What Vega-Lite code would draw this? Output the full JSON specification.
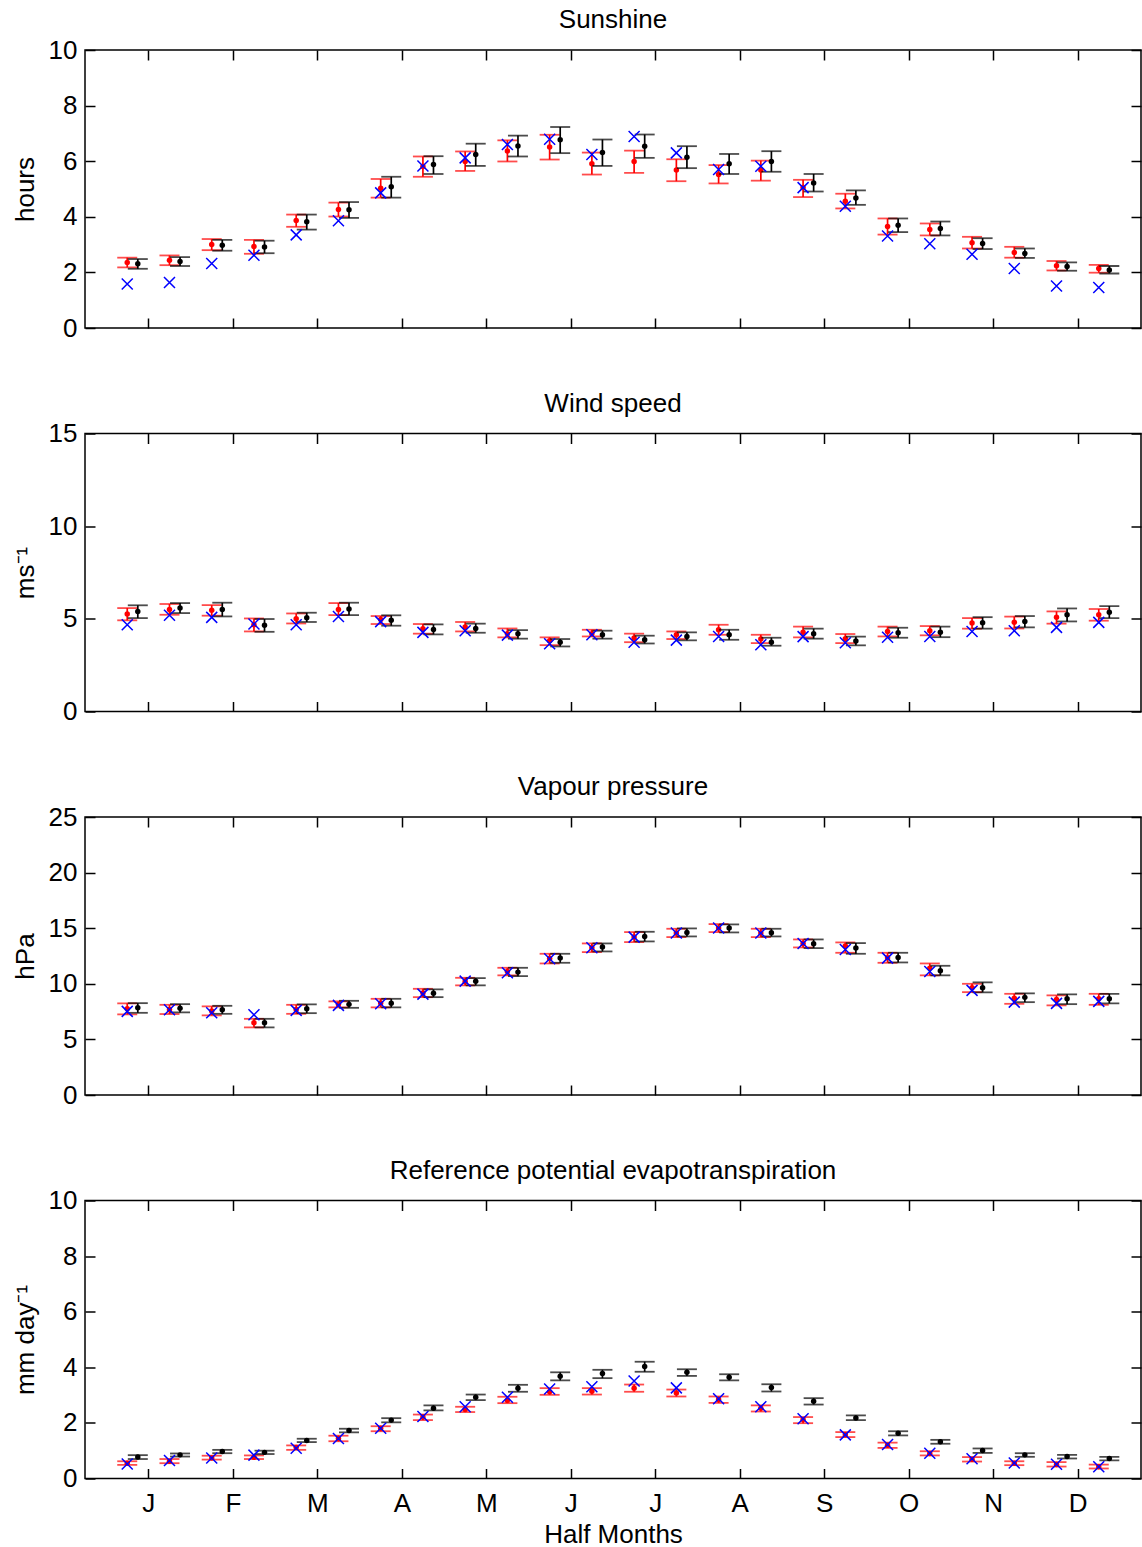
{
"$schema": "https://vega.github.io/schema/vega-lite/v6.json",
"padding": {"left": 11, "top": 6, "right": 0, "bottom": 0},
"background": "white",
"spacing": 105.5,
"bounds": "flush",
"config": {
  "font": "Liberation Sans",
  "view": {"stroke": "black", "strokeWidth": 1.5},
  "axis": {"domain": false, "grid": false, "tickColor": "black", "tickWidth": 1.5, "tickSize": -10,
           "labelFont": "Liberation Sans", "labelFontSize": 26, "labelColor": "black", "labelPadding": 18,
           "titleFont": "Liberation Sans", "titleFontSize": 26, "titleFontWeight": "normal", "titleColor": "black", "titlePadding": 10},
  "title": {"font": "Liberation Sans", "fontSize": 26, "fontWeight": "normal", "color": "black", "offset": 4}
},
"datasets": {
"sun": [
{"h":1,"r":2.36,"rl":2.18,"rh":2.53,"k":2.31,"kl":2.13,"kh":2.48,"b":1.58},
{"h":2,"r":2.44,"rl":2.26,"rh":2.61,"k":2.39,"kl":2.23,"kh":2.55,"b":1.64},
{"h":3,"r":3.00,"rl":2.80,"rh":3.20,"k":2.98,"kl":2.78,"kh":3.17,"b":2.32},
{"h":4,"r":2.93,"rl":2.67,"rh":3.17,"k":2.91,"kl":2.69,"kh":3.14,"b":2.62},
{"h":5,"r":3.87,"rl":3.64,"rh":4.08,"k":3.82,"kl":3.54,"kh":4.08,"b":3.35},
{"h":6,"r":4.26,"rl":4.01,"rh":4.51,"k":4.25,"kl":3.96,"kh":4.53,"b":3.86},
{"h":7,"r":5.03,"rl":4.69,"rh":5.36,"k":5.08,"kl":4.69,"kh":5.44,"b":4.86},
{"h":8,"r":5.81,"rl":5.44,"rh":6.17,"k":5.88,"kl":5.54,"kh":6.18,"b":5.83},
{"h":9,"r":5.99,"rl":5.65,"rh":6.35,"k":6.24,"kl":5.83,"kh":6.63,"b":6.12},
{"h":10,"r":6.37,"rl":5.99,"rh":6.75,"k":6.55,"kl":6.17,"kh":6.92,"b":6.60},
{"h":11,"r":6.51,"rl":6.06,"rh":6.95,"k":6.77,"kl":6.29,"kh":7.23,"b":6.79},
{"h":12,"r":5.91,"rl":5.52,"rh":6.31,"k":6.31,"kl":5.83,"kh":6.78,"b":6.24},
{"h":13,"r":5.99,"rl":5.58,"rh":6.38,"k":6.54,"kl":6.12,"kh":6.96,"b":6.89},
{"h":14,"r":5.68,"rl":5.28,"rh":6.07,"k":6.14,"kl":5.75,"kh":6.54,"b":6.30},
{"h":15,"r":5.52,"rl":5.20,"rh":5.86,"k":5.91,"kl":5.54,"kh":6.26,"b":5.70},
{"h":16,"r":5.68,"rl":5.30,"rh":6.02,"k":5.99,"kl":5.62,"kh":6.36,"b":5.82},
{"h":17,"r":5.05,"rl":4.71,"rh":5.33,"k":5.22,"kl":4.91,"kh":5.54,"b":5.05},
{"h":18,"r":4.56,"rl":4.30,"rh":4.83,"k":4.68,"kl":4.43,"kh":4.95,"b":4.38},
{"h":19,"r":3.65,"rl":3.36,"rh":3.94,"k":3.70,"kl":3.45,"kh":3.94,"b":3.31},
{"h":20,"r":3.54,"rl":3.33,"rh":3.76,"k":3.58,"kl":3.33,"kh":3.83,"b":3.03},
{"h":21,"r":3.07,"rl":2.86,"rh":3.28,"k":3.04,"kl":2.84,"kh":3.23,"b":2.65},
{"h":22,"r":2.72,"rl":2.53,"rh":2.92,"k":2.68,"kl":2.52,"kh":2.86,"b":2.14},
{"h":23,"r":2.24,"rl":2.07,"rh":2.41,"k":2.21,"kl":2.06,"kh":2.36,"b":1.51},
{"h":24,"r":2.14,"rl":1.99,"rh":2.27,"k":2.09,"kl":1.96,"kh":2.23,"b":1.46}
],
"wind": [
{"h":1,"r":5.26,"rl":4.92,"rh":5.58,"k":5.40,"kl":5.04,"kh":5.73,"b":4.68},
{"h":2,"r":5.51,"rl":5.22,"rh":5.80,"k":5.58,"kl":5.31,"kh":5.85,"b":5.19},
{"h":3,"r":5.46,"rl":5.17,"rh":5.74,"k":5.51,"kl":5.13,"kh":5.87,"b":5.08},
{"h":4,"r":4.68,"rl":4.32,"rh":5.02,"k":4.65,"kl":4.30,"kh":4.99,"b":4.72},
{"h":5,"r":5.01,"rl":4.75,"rh":5.29,"k":5.06,"kl":4.83,"kh":5.33,"b":4.68},
{"h":6,"r":5.51,"rl":5.20,"rh":5.85,"k":5.53,"kl":5.20,"kh":5.87,"b":5.13},
{"h":7,"r":4.97,"rl":4.72,"rh":5.15,"k":4.92,"kl":4.63,"kh":5.19,"b":4.85},
{"h":8,"r":4.47,"rl":4.20,"rh":4.72,"k":4.43,"kl":4.16,"kh":4.70,"b":4.27},
{"h":9,"r":4.56,"rl":4.32,"rh":4.83,"k":4.48,"kl":4.25,"kh":4.74,"b":4.36},
{"h":10,"r":4.20,"rl":4.00,"rh":4.48,"k":4.20,"kl":3.93,"kh":4.39,"b":4.12},
{"h":11,"r":3.82,"rl":3.58,"rh":4.00,"k":3.74,"kl":3.51,"kh":3.91,"b":3.66},
{"h":12,"r":4.20,"rl":4.05,"rh":4.41,"k":4.14,"kl":3.93,"kh":4.36,"b":4.14},
{"h":13,"r":3.96,"rl":3.74,"rh":4.20,"k":3.87,"kl":3.67,"kh":4.09,"b":3.74},
{"h":14,"r":4.14,"rl":3.91,"rh":4.32,"k":4.05,"kl":3.84,"kh":4.27,"b":3.85},
{"h":15,"r":4.41,"rl":4.14,"rh":4.68,"k":4.14,"kl":3.87,"kh":4.41,"b":4.05},
{"h":16,"r":3.91,"rl":3.69,"rh":4.14,"k":3.74,"kl":3.55,"kh":3.98,"b":3.60},
{"h":17,"r":4.28,"rl":4.00,"rh":4.58,"k":4.20,"kl":3.93,"kh":4.47,"b":4.04},
{"h":18,"r":3.93,"rl":3.69,"rh":4.18,"k":3.80,"kl":3.57,"kh":4.04,"b":3.71},
{"h":19,"r":4.32,"rl":4.05,"rh":4.58,"k":4.25,"kl":3.98,"kh":4.52,"b":4.01},
{"h":20,"r":4.36,"rl":4.11,"rh":4.61,"k":4.28,"kl":4.01,"kh":4.58,"b":4.05},
{"h":21,"r":4.77,"rl":4.47,"rh":5.04,"k":4.79,"kl":4.47,"kh":5.09,"b":4.32},
{"h":22,"r":4.81,"rl":4.48,"rh":5.12,"k":4.86,"kl":4.54,"kh":5.15,"b":4.36},
{"h":23,"r":5.08,"rl":4.74,"rh":5.40,"k":5.22,"kl":4.86,"kh":5.56,"b":4.54},
{"h":24,"r":5.22,"rl":4.90,"rh":5.53,"k":5.36,"kl":5.04,"kh":5.69,"b":4.81}
],
"vap": [
{"h":1,"r":7.75,"rl":7.25,"rh":8.24,"k":7.84,"kl":7.39,"kh":8.26,"b":7.52},
{"h":2,"r":7.70,"rl":7.28,"rh":8.11,"k":7.81,"kl":7.43,"kh":8.17,"b":7.66},
{"h":3,"r":7.56,"rl":7.16,"rh":7.97,"k":7.66,"kl":7.30,"kh":8.02,"b":7.39},
{"h":4,"r":6.49,"rl":6.08,"rh":6.85,"k":6.49,"kl":6.08,"kh":6.85,"b":7.21},
{"h":5,"r":7.70,"rl":7.30,"rh":8.11,"k":7.75,"kl":7.36,"kh":8.15,"b":7.61},
{"h":6,"r":8.15,"rl":7.88,"rh":8.42,"k":8.15,"kl":7.84,"kh":8.47,"b":8.06},
{"h":7,"r":8.27,"rl":7.88,"rh":8.65,"k":8.26,"kl":7.88,"kh":8.65,"b":8.20},
{"h":8,"r":9.18,"rl":8.80,"rh":9.55,"k":9.16,"kl":8.80,"kh":9.50,"b":9.07},
{"h":9,"r":10.2,"rl":9.86,"rh":10.54,"k":10.22,"kl":9.86,"kh":10.51,"b":10.24},
{"h":10,"r":11.1,"rl":10.76,"rh":11.44,"k":11.05,"kl":10.69,"kh":11.44,"b":10.99},
{"h":11,"r":12.27,"rl":11.83,"rh":12.70,"k":12.31,"kl":11.89,"kh":12.70,"b":12.25},
{"h":12,"r":13.24,"rl":12.85,"rh":13.63,"k":13.30,"kl":12.91,"kh":13.63,"b":13.24},
{"h":13,"r":14.2,"rl":13.75,"rh":14.65,"k":14.26,"kl":13.81,"kh":14.68,"b":14.20},
{"h":14,"r":14.57,"rl":14.20,"rh":14.95,"k":14.62,"kl":14.26,"kh":14.98,"b":14.56},
{"h":15,"r":15.01,"rl":14.65,"rh":15.37,"k":15.01,"kl":14.62,"kh":15.34,"b":15.01},
{"h":16,"r":14.57,"rl":14.20,"rh":14.95,"k":14.59,"kl":14.26,"kh":14.95,"b":14.56},
{"h":17,"r":13.63,"rl":13.27,"rh":13.99,"k":13.60,"kl":13.21,"kh":13.99,"b":13.63},
{"h":18,"r":13.39,"rl":12.79,"rh":13.72,"k":13.21,"kl":12.70,"kh":13.66,"b":13.09},
{"h":19,"r":12.34,"rl":11.89,"rh":12.79,"k":12.37,"kl":11.92,"kh":12.79,"b":12.31},
{"h":20,"r":11.41,"rl":10.76,"rh":11.83,"k":11.17,"kl":10.76,"kh":11.62,"b":11.11},
{"h":21,"r":9.64,"rl":9.25,"rh":10.0,"k":9.64,"kl":9.23,"kh":10.13,"b":9.41},
{"h":22,"r":8.71,"rl":8.20,"rh":9.10,"k":8.78,"kl":8.35,"kh":9.14,"b":8.35},
{"h":23,"r":8.60,"rl":8.06,"rh":8.96,"k":8.65,"kl":8.17,"kh":9.05,"b":8.24},
{"h":24,"r":8.65,"rl":8.11,"rh":9.10,"k":8.65,"kl":8.24,"kh":9.10,"b":8.42}
],
"et": [
{"h":1,"r":0.55,"rl":0.49,"rh":0.62,"k":0.77,"kl":0.70,"kh":0.84,"b":0.52},
{"h":2,"r":0.62,"rl":0.55,"rh":0.70,"k":0.85,"kl":0.79,"kh":0.90,"b":0.65},
{"h":3,"r":0.74,"rl":0.68,"rh":0.82,"k":0.97,"kl":0.91,"kh":1.03,"b":0.74},
{"h":4,"r":0.76,"rl":0.70,"rh":0.83,"k":0.94,"kl":0.88,"kh":1.00,"b":0.84},
{"h":5,"r":1.12,"rl":1.03,"rh":1.19,"k":1.37,"kl":1.31,"kh":1.43,"b":1.09},
{"h":6,"r":1.44,"rl":1.34,"rh":1.54,"k":1.73,"kl":1.66,"kh":1.79,"b":1.44},
{"h":7,"r":1.81,"rl":1.70,"rh":1.88,"k":2.10,"kl":2.02,"kh":2.17,"b":1.81},
{"h":8,"r":2.21,"rl":2.10,"rh":2.30,"k":2.53,"kl":2.45,"kh":2.63,"b":2.23},
{"h":9,"r":2.48,"rl":2.39,"rh":2.58,"k":2.92,"kl":2.82,"kh":3.02,"b":2.58},
{"h":10,"r":2.81,"rl":2.71,"rh":2.94,"k":3.25,"kl":3.12,"kh":3.37,"b":2.92},
{"h":11,"r":3.12,"rl":3.01,"rh":3.25,"k":3.68,"kl":3.53,"kh":3.82,"b":3.22},
{"h":12,"r":3.14,"rl":3.02,"rh":3.25,"k":3.78,"kl":3.61,"kh":3.91,"b":3.30},
{"h":13,"r":3.25,"rl":3.12,"rh":3.38,"k":4.03,"kl":3.84,"kh":4.20,"b":3.51},
{"h":14,"r":3.08,"rl":2.95,"rh":3.20,"k":3.82,"kl":3.69,"kh":3.93,"b":3.26},
{"h":15,"r":2.84,"rl":2.72,"rh":2.95,"k":3.64,"kl":3.53,"kh":3.75,"b":2.87},
{"h":16,"r":2.53,"rl":2.41,"rh":2.63,"k":3.27,"kl":3.13,"kh":3.39,"b":2.58},
{"h":17,"r":2.12,"rl":1.99,"rh":2.21,"k":2.78,"kl":2.66,"kh":2.89,"b":2.15},
{"h":18,"r":1.57,"rl":1.49,"rh":1.67,"k":2.18,"kl":2.10,"kh":2.27,"b":1.57},
{"h":19,"r":1.20,"rl":1.10,"rh":1.29,"k":1.63,"kl":1.55,"kh":1.70,"b":1.22},
{"h":20,"r":0.90,"rl":0.83,"rh":0.98,"k":1.32,"kl":1.25,"kh":1.39,"b":0.91},
{"h":21,"r":0.69,"rl":0.61,"rh":0.77,"k":1.01,"kl":0.92,"kh":1.08,"b":0.71},
{"h":22,"r":0.55,"rl":0.48,"rh":0.62,"k":0.85,"kl":0.78,"kh":0.91,"b":0.56},
{"h":23,"r":0.50,"rl":0.43,"rh":0.59,"k":0.79,"kl":0.72,"kh":0.85,"b":0.51},
{"h":24,"r":0.42,"rl":0.36,"rh":0.50,"k":0.72,"kl":0.65,"kh":0.78,"b":0.42}
]
},
"vconcat": [
{
 "title": "Sunshine", "width": 1056, "height": 278, "data": {"name": "sun"},
 "layer": [
  {"mark": {"type": "rule", "color": "#ff0000", "strokeWidth": 1.7},
   "encoding": {"x": {"field": "h", "type": "quantitative", "scale": {"domain": [0, 25], "nice": false, "zero": false}, "axis": {"orient": "bottom", "values": [1.5,3.5,5.5,7.5,9.5,11.5,13.5,15.5,17.5,19.5,21.5,23.5], "labels": false, "title": null}},
                "y": {"field": "rl", "type": "quantitative", "scale": {"domain": [0, 10], "nice": false, "zero": false}, "axis": {"orient": "left", "values": [0,2,4,6,8,10], "title": "hours"}},
                "y2": {"field": "rh"}}},
  {"mark": {"type": "tick", "orient": "horizontal", "color": "#ff0000", "size": 20, "thickness": 1.8},
   "encoding": {"x": {"field": "h", "type": "quantitative", "axis": {"orient": "top", "values": [1.5,3.5,5.5,7.5,9.5,11.5,13.5,15.5,17.5,19.5,21.5,23.5], "labels": false, "title": null}},
                "y": {"field": "rl", "type": "quantitative", "axis": {"orient": "right", "values": [0,2,4,6,8,10], "labels": false, "title": null}}}},
  {"mark": {"type": "tick", "orient": "horizontal", "color": "#ff0000", "size": 20, "thickness": 1.8},
   "encoding": {"x": {"field": "h", "type": "quantitative", "axis": null}, "y": {"field": "rh", "type": "quantitative", "axis": null}}},
  {"mark": {"type": "circle", "color": "#ff0000", "size": 30, "opacity": 1},
   "encoding": {"x": {"field": "h", "type": "quantitative", "axis": null}, "y": {"field": "r", "type": "quantitative", "axis": null}}},
  {"mark": {"type": "rule", "color": "black", "strokeWidth": 1.7, "xOffset": 10.56},
   "encoding": {"x": {"field": "h", "type": "quantitative", "axis": null}, "y": {"field": "kl", "type": "quantitative", "axis": null}, "y2": {"field": "kh"}}},
  {"mark": {"type": "tick", "orient": "horizontal", "color": "black", "size": 20, "thickness": 1.8, "xOffset": 10.56},
   "encoding": {"x": {"field": "h", "type": "quantitative", "axis": null}, "y": {"field": "kl", "type": "quantitative", "axis": null}}},
  {"mark": {"type": "tick", "orient": "horizontal", "color": "black", "size": 20, "thickness": 1.8, "xOffset": 10.56},
   "encoding": {"x": {"field": "h", "type": "quantitative", "axis": null}, "y": {"field": "kh", "type": "quantitative", "axis": null}}},
  {"mark": {"type": "circle", "color": "black", "size": 30, "opacity": 1, "xOffset": 10.56},
   "encoding": {"x": {"field": "h", "type": "quantitative", "axis": null}, "y": {"field": "k", "type": "quantitative", "axis": null}}},
  {"mark": {"type": "point", "shape": "M-1,-1L1,1M-1,1L1,-1", "color": "#0000ff", "filled": false, "size": 121, "strokeWidth": 1.5, "opacity": 1},
   "encoding": {"x": {"field": "h", "type": "quantitative", "axis": null}, "y": {"field": "b", "type": "quantitative", "axis": null}}}
 ],
 "resolve": {"axis": {"x": "independent", "y": "independent"}}
},
{
 "title": "Wind speed", "width": 1056, "height": 278, "data": {"name": "wind"},
 "layer": [
  {"mark": {"type": "rule", "color": "#ff0000", "strokeWidth": 1.7},
   "encoding": {"x": {"field": "h", "type": "quantitative", "scale": {"domain": [0, 25], "nice": false, "zero": false}, "axis": {"orient": "bottom", "values": [1.5,3.5,5.5,7.5,9.5,11.5,13.5,15.5,17.5,19.5,21.5,23.5], "labels": false, "title": null}},
                "y": {"field": "rl", "type": "quantitative", "scale": {"domain": [0, 15], "nice": false, "zero": false}, "axis": {"orient": "left", "values": [0,5,10,15], "title": "ms⁻¹"}},
                "y2": {"field": "rh"}}},
  {"mark": {"type": "tick", "orient": "horizontal", "color": "#ff0000", "size": 20, "thickness": 1.8},
   "encoding": {"x": {"field": "h", "type": "quantitative", "axis": {"orient": "top", "values": [1.5,3.5,5.5,7.5,9.5,11.5,13.5,15.5,17.5,19.5,21.5,23.5], "labels": false, "title": null}},
                "y": {"field": "rl", "type": "quantitative", "axis": {"orient": "right", "values": [0,5,10,15], "labels": false, "title": null}}}},
  {"mark": {"type": "tick", "orient": "horizontal", "color": "#ff0000", "size": 20, "thickness": 1.8},
   "encoding": {"x": {"field": "h", "type": "quantitative", "axis": null}, "y": {"field": "rh", "type": "quantitative", "axis": null}}},
  {"mark": {"type": "circle", "color": "#ff0000", "size": 30, "opacity": 1},
   "encoding": {"x": {"field": "h", "type": "quantitative", "axis": null}, "y": {"field": "r", "type": "quantitative", "axis": null}}},
  {"mark": {"type": "rule", "color": "black", "strokeWidth": 1.7, "xOffset": 10.56},
   "encoding": {"x": {"field": "h", "type": "quantitative", "axis": null}, "y": {"field": "kl", "type": "quantitative", "axis": null}, "y2": {"field": "kh"}}},
  {"mark": {"type": "tick", "orient": "horizontal", "color": "black", "size": 20, "thickness": 1.8, "xOffset": 10.56},
   "encoding": {"x": {"field": "h", "type": "quantitative", "axis": null}, "y": {"field": "kl", "type": "quantitative", "axis": null}}},
  {"mark": {"type": "tick", "orient": "horizontal", "color": "black", "size": 20, "thickness": 1.8, "xOffset": 10.56},
   "encoding": {"x": {"field": "h", "type": "quantitative", "axis": null}, "y": {"field": "kh", "type": "quantitative", "axis": null}}},
  {"mark": {"type": "circle", "color": "black", "size": 30, "opacity": 1, "xOffset": 10.56},
   "encoding": {"x": {"field": "h", "type": "quantitative", "axis": null}, "y": {"field": "k", "type": "quantitative", "axis": null}}},
  {"mark": {"type": "point", "shape": "M-1,-1L1,1M-1,1L1,-1", "color": "#0000ff", "filled": false, "size": 121, "strokeWidth": 1.5, "opacity": 1},
   "encoding": {"x": {"field": "h", "type": "quantitative", "axis": null}, "y": {"field": "b", "type": "quantitative", "axis": null}}}
 ],
 "resolve": {"axis": {"x": "independent", "y": "independent"}}
},
{
 "title": "Vapour pressure", "width": 1056, "height": 278, "data": {"name": "vap"},
 "layer": [
  {"mark": {"type": "rule", "color": "#ff0000", "strokeWidth": 1.7},
   "encoding": {"x": {"field": "h", "type": "quantitative", "scale": {"domain": [0, 25], "nice": false, "zero": false}, "axis": {"orient": "bottom", "values": [1.5,3.5,5.5,7.5,9.5,11.5,13.5,15.5,17.5,19.5,21.5,23.5], "labels": false, "title": null}},
                "y": {"field": "rl", "type": "quantitative", "scale": {"domain": [0, 25], "nice": false, "zero": false}, "axis": {"orient": "left", "values": [0,5,10,15,20,25], "title": "hPa"}},
                "y2": {"field": "rh"}}},
  {"mark": {"type": "tick", "orient": "horizontal", "color": "#ff0000", "size": 20, "thickness": 1.8},
   "encoding": {"x": {"field": "h", "type": "quantitative", "axis": {"orient": "top", "values": [1.5,3.5,5.5,7.5,9.5,11.5,13.5,15.5,17.5,19.5,21.5,23.5], "labels": false, "title": null}},
                "y": {"field": "rl", "type": "quantitative", "axis": {"orient": "right", "values": [0,5,10,15,20,25], "labels": false, "title": null}}}},
  {"mark": {"type": "tick", "orient": "horizontal", "color": "#ff0000", "size": 20, "thickness": 1.8},
   "encoding": {"x": {"field": "h", "type": "quantitative", "axis": null}, "y": {"field": "rh", "type": "quantitative", "axis": null}}},
  {"mark": {"type": "circle", "color": "#ff0000", "size": 30, "opacity": 1},
   "encoding": {"x": {"field": "h", "type": "quantitative", "axis": null}, "y": {"field": "r", "type": "quantitative", "axis": null}}},
  {"mark": {"type": "rule", "color": "black", "strokeWidth": 1.7, "xOffset": 10.56},
   "encoding": {"x": {"field": "h", "type": "quantitative", "axis": null}, "y": {"field": "kl", "type": "quantitative", "axis": null}, "y2": {"field": "kh"}}},
  {"mark": {"type": "tick", "orient": "horizontal", "color": "black", "size": 20, "thickness": 1.8, "xOffset": 10.56},
   "encoding": {"x": {"field": "h", "type": "quantitative", "axis": null}, "y": {"field": "kl", "type": "quantitative", "axis": null}}},
  {"mark": {"type": "tick", "orient": "horizontal", "color": "black", "size": 20, "thickness": 1.8, "xOffset": 10.56},
   "encoding": {"x": {"field": "h", "type": "quantitative", "axis": null}, "y": {"field": "kh", "type": "quantitative", "axis": null}}},
  {"mark": {"type": "circle", "color": "black", "size": 30, "opacity": 1, "xOffset": 10.56},
   "encoding": {"x": {"field": "h", "type": "quantitative", "axis": null}, "y": {"field": "k", "type": "quantitative", "axis": null}}},
  {"mark": {"type": "point", "shape": "M-1,-1L1,1M-1,1L1,-1", "color": "#0000ff", "filled": false, "size": 121, "strokeWidth": 1.5, "opacity": 1},
   "encoding": {"x": {"field": "h", "type": "quantitative", "axis": null}, "y": {"field": "b", "type": "quantitative", "axis": null}}}
 ],
 "resolve": {"axis": {"x": "independent", "y": "independent"}}
},
{
 "title": "Reference potential evapotranspiration", "width": 1056, "height": 278, "data": {"name": "et"},
 "layer": [
  {"mark": {"type": "rule", "color": "#ff0000", "strokeWidth": 1.7},
   "encoding": {"x": {"field": "h", "type": "quantitative", "scale": {"domain": [0, 25], "nice": false, "zero": false}, "axis": {"orient": "bottom", "values": [1.5,3.5,5.5,7.5,9.5,11.5,13.5,15.5,17.5,19.5,21.5,23.5], "labelExpr": "['J','F','M','A','M','J','J','A','S','O','N','D'][floor(datum.value/2)]", "labelPadding": 22, "title": "Half Months", "titlePadding": 5}},
                "y": {"field": "rl", "type": "quantitative", "scale": {"domain": [0, 10], "nice": false, "zero": false}, "axis": {"orient": "left", "values": [0,2,4,6,8,10], "title": "mm day⁻¹"}},
                "y2": {"field": "rh"}}},
  {"mark": {"type": "tick", "orient": "horizontal", "color": "#ff0000", "size": 20, "thickness": 1.8},
   "encoding": {"x": {"field": "h", "type": "quantitative", "axis": {"orient": "top", "values": [1.5,3.5,5.5,7.5,9.5,11.5,13.5,15.5,17.5,19.5,21.5,23.5], "labels": false, "title": null}},
                "y": {"field": "rl", "type": "quantitative", "axis": {"orient": "right", "values": [0,2,4,6,8,10], "labels": false, "title": null}}}},
  {"mark": {"type": "tick", "orient": "horizontal", "color": "#ff0000", "size": 20, "thickness": 1.8},
   "encoding": {"x": {"field": "h", "type": "quantitative", "axis": null}, "y": {"field": "rh", "type": "quantitative", "axis": null}}},
  {"mark": {"type": "circle", "color": "#ff0000", "size": 30, "opacity": 1},
   "encoding": {"x": {"field": "h", "type": "quantitative", "axis": null}, "y": {"field": "r", "type": "quantitative", "axis": null}}},
  {"mark": {"type": "rule", "color": "black", "strokeWidth": 1.7, "xOffset": 10.56},
   "encoding": {"x": {"field": "h", "type": "quantitative", "axis": null}, "y": {"field": "kl", "type": "quantitative", "axis": null}, "y2": {"field": "kh"}}},
  {"mark": {"type": "tick", "orient": "horizontal", "color": "black", "size": 20, "thickness": 1.8, "xOffset": 10.56},
   "encoding": {"x": {"field": "h", "type": "quantitative", "axis": null}, "y": {"field": "kl", "type": "quantitative", "axis": null}}},
  {"mark": {"type": "tick", "orient": "horizontal", "color": "black", "size": 20, "thickness": 1.8, "xOffset": 10.56},
   "encoding": {"x": {"field": "h", "type": "quantitative", "axis": null}, "y": {"field": "kh", "type": "quantitative", "axis": null}}},
  {"mark": {"type": "circle", "color": "black", "size": 30, "opacity": 1, "xOffset": 10.56},
   "encoding": {"x": {"field": "h", "type": "quantitative", "axis": null}, "y": {"field": "k", "type": "quantitative", "axis": null}}},
  {"mark": {"type": "point", "shape": "M-1,-1L1,1M-1,1L1,-1", "color": "#0000ff", "filled": false, "size": 121, "strokeWidth": 1.5, "opacity": 1},
   "encoding": {"x": {"field": "h", "type": "quantitative", "axis": null}, "y": {"field": "b", "type": "quantitative", "axis": null}}}
 ],
 "resolve": {"axis": {"x": "independent", "y": "independent"}}
}
]
}
